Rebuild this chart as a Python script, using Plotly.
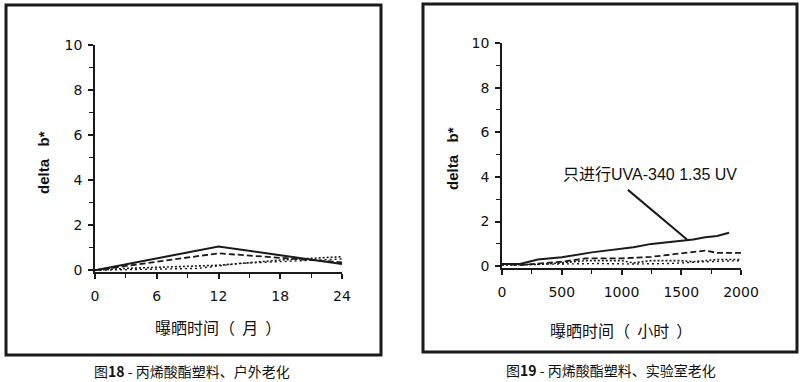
import plotly.graph_objects as go

# ---- data: Fig 18 (outdoor, months) ----
months = [0, 12, 24]
out_solid = [0.0, 1.05, 0.28]
out_dash = [0.0, 0.75, 0.35]
months_dot = [0, 3, 12, 18, 24]
out_dot1 = [0.0, 0.08, 0.22, 0.45, 0.6]
months_dot2 = [0, 3, 6, 10, 14, 24]
out_dot2 = [0.0, 0.02, 0.04, 0.08, 0.3, 0.5]

# ---- data: Fig 19 (lab, hours) ----
hrs_solid = [0, 150, 300, 500, 750, 1000, 1100, 1250, 1500, 1600, 1700, 1800, 1900]
lab_solid = [0.1, 0.1, 0.3, 0.4, 0.62, 0.8, 0.85, 1.0, 1.12, 1.2, 1.3, 1.35, 1.5]
hrs_dash = [0, 150, 300, 500, 700, 1000, 1250, 1450, 1550, 1700, 1800, 2000]
lab_dash = [0.1, 0.05, 0.12, 0.2, 0.35, 0.35, 0.42, 0.55, 0.62, 0.7, 0.6, 0.6]
hrs_dot = [0, 300, 500, 700, 1000, 1100, 1250, 1500, 1600, 1800, 2000]
lab_dot = [0.05, 0.08, 0.15, 0.25, 0.25, 0.15, 0.25, 0.25, 0.2, 0.3, 0.3]
hrs_dot2 = [0, 200, 500, 800, 1100, 1400, 1700, 2000]
lab_dot2 = [0.1, 0.08, 0.1, 0.12, 0.1, 0.12, 0.2, 0.25]

x1_ticks = [0, 6, 12, 18, 24]
x2_ticks = [0, 500, 1000, 1500, 2000]
y_ticks = [0, 2, 4, 6, 8, 10]

W, H = 800, 382
def px(x):
    return x / W
def py(y):
    return 1 - y / H

INK = "#1a1a1a"
fig = go.Figure()

def add(x, y, dash, width, xa, ya):
    fig.add_trace(go.Scatter(x=x, y=y, mode="lines", xaxis=xa, yaxis=ya,
                             line=dict(color=INK, width=width, dash=dash),
                             showlegend=False, hoverinfo="skip"))

add(months, out_solid, "solid", 2, "x", "y")
add(months, out_dash, "6px,3px", 1.8, "x", "y")
add(months_dot, out_dot1, "2px,2px", 1.6, "x", "y")
add(months_dot2, out_dot2, "2px,3px", 1.4, "x", "y")

add(hrs_solid, lab_solid, "solid", 2, "x2", "y2")
add(hrs_dash, lab_dash, "6px,3px", 1.8, "x2", "y2")
add(hrs_dot, lab_dot, "2px,2px", 1.6, "x2", "y2")
add(hrs_dot2, lab_dot2, "2px,3px", 1.4, "x2", "y2")

tickfont = dict(family="DejaVu Sans", size=14, color="#111")
common_x = dict(showline=True, linecolor=INK, linewidth=1.5, ticks="outside",
                ticklen=5, tickcolor=INK, tickwidth=1.5, showgrid=False,
                zeroline=False, tickfont=tickfont, automargin=False)
common_y = dict(showline=True, linecolor=INK, linewidth=1.5, ticks="outside",
                ticklen=5, tickcolor=INK, tickwidth=1.5, showgrid=False,
                zeroline=False, tickfont=tickfont, range=[-0.08, 10],
                tickvals=y_ticks, ticklabelstandoff=3, automargin=False,
                minor=dict(dtick=1, ticks="outside", ticklen=4, tickcolor=INK,
                           tickwidth=1, showgrid=False))

fig.update_layout(
    template="none",
    width=W, height=H, margin=dict(l=0, r=0, t=0, b=0, pad=0, autoexpand=False),
    paper_bgcolor="white", plot_bgcolor="white",
    xaxis=dict(domain=[px(95), px(342)], range=[0, 24], tickvals=x1_ticks,
               anchor="y", ticklabelstandoff=5,
               minor=dict(dtick=3, ticks="outside", ticklen=4, tickcolor=INK,
                          tickwidth=1, showgrid=False), **common_x),
    yaxis=dict(domain=[py(272), py(45)], anchor="x", **common_y),
    xaxis2=dict(domain=[px(502), px(741)], range=[0, 2000], tickvals=x2_ticks,
                anchor="y2", ticklabelstandoff=5,
                minor=dict(dtick=250, ticks="outside", ticklen=4, tickcolor=INK,
                           tickwidth=1, showgrid=False), **common_x),
    yaxis2=dict(domain=[py(268), py(43)], anchor="x2", **common_y),
)

# panel borders
for (x0, y0, x1, y1) in [(6, 5, 381, 355), (423, 4, 797, 352)]:
    fig.add_shape(type="rect", xref="paper", yref="paper",
                  x0=px(x0), x1=px(x1), y0=py(y1), y1=py(y0),
                  line=dict(color=INK, width=3), fillcolor="rgba(0,0,0,0)")

cjk = "Noto Sans CJK SC"
def text(x, y, s, size, angle=0, bold=False, family=None):
    fig.add_annotation(x=px(x), y=py(y), xref="paper", yref="paper", text=s,
                       showarrow=False, textangle=angle,
                       font=dict(family=family or "Liberation Sans, Arial", size=size,
                                 color="#111", weight="bold" if bold else "normal"),
                       xanchor="center", yanchor="middle")

text(43, 163, "delta\u00a0\u00a0 b*", 15, angle=-90, bold=True)
text(452, 158, "delta\u00a0\u00a0 b*", 15, angle=-90, bold=True)
text(218, 327, "曝晒时间（  月  ）", 16, family=cjk)
text(621, 330, "曝晒时间（  小时  ）", 16, family=cjk)
text(192, 371, "图<b>18</b> - 丙烯酸酯塑料、户外老化", 14, family=cjk)
text(611, 370, "图<b>19</b> - 丙烯酸酯塑料、实验室老化", 14, family=cjk)

# callout label on right panel
fig.add_annotation(x=1238, y=4.1, xref="x2", yref="y2", text="只进行UVA-340 1.35 UV",
                   showarrow=False,
                   font=dict(family="Liberation Sans, Noto Sans CJK SC", size=16, color="#111"),
                   xanchor="center", yanchor="middle")
fig.add_shape(type="line", xref="x2", yref="y2", x0=1054, y0=3.42, x1=1548, y1=1.2,
              line=dict(color=INK, width=2))

fig.write_html("out.html", config={"displayModeBar": False},
               post_script="document.body.style.margin='0';")
